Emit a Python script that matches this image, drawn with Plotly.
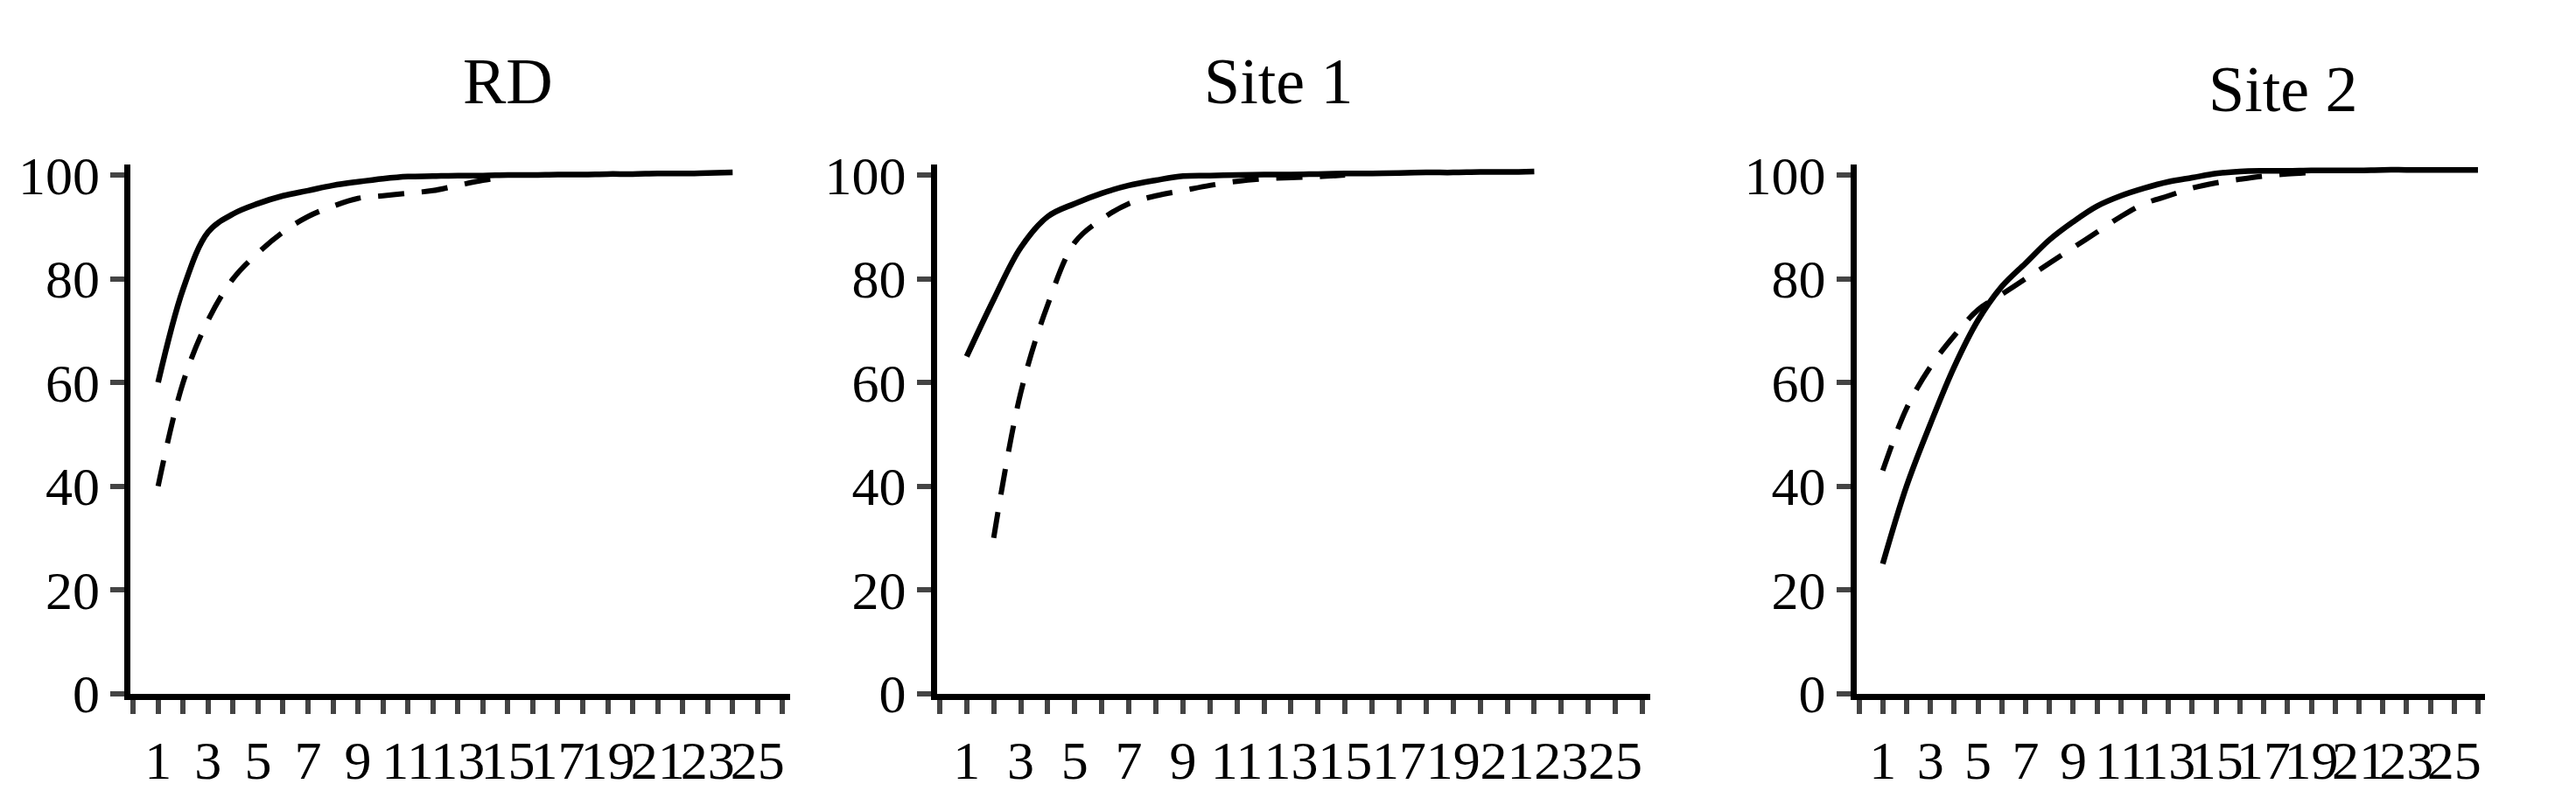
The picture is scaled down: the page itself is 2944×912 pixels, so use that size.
import plotly.graph_objects as go

titles = ["RD", "Site 1", "Site 2"]

# solid curves
rd_solid_x = list(range(1, 25))
rd_solid_y = [60, 78, 89, 92.5, 94.5, 96, 97, 98, 98.7, 99.3, 99.7, 99.8, 99.9, 99.9,
              100, 100, 100.1, 100.1, 100.2, 100.2, 100.3, 100.3, 100.4, 100.5]
s1_solid_x = list(range(1, 23))
s1_solid_y = [65, 76, 86, 92, 94.5, 96.5, 98, 99, 99.8, 99.9, 100, 100.1, 100.1, 100.2,
              100.3, 100.3, 100.4, 100.5, 100.5, 100.6, 100.6, 100.7]
s2_solid_x = list(range(1, 27))
s2_solid_y = [25, 40, 52, 63, 72, 78.5, 83, 87.5, 91, 94, 96, 97.5, 98.7, 99.5, 100.3,
              100.7, 100.8, 100.8, 100.9, 100.9, 100.9, 101, 101, 101, 101, 101]

# dashed curves
rd_dash_x = list(range(1, 16))
rd_dash_y = [40, 60, 72, 80, 85, 89, 92, 94, 95.5, 96, 96.5, 97, 98, 99, 99.6]
s1_dash_x = list(range(2, 16))
s1_dash_y = [30, 58, 75, 87, 91.5, 94.5, 96, 97, 98, 98.8, 99.3, 99.5, 99.7, 100]
s2_dash_x = list(range(1, 20))
s2_dash_y = [43, 55, 63, 69, 74, 77, 80, 83, 86, 89, 92, 94.5, 96, 97.5, 98.5, 99.2,
             99.8, 100.2, 100.5]

solids = [(rd_solid_x, rd_solid_y), (s1_solid_x, s1_solid_y), (s2_solid_x, s2_solid_y)]
dashes = [(rd_dash_x, rd_dash_y), (s1_dash_x, s1_dash_y), (s2_dash_x, s2_dash_y)]

x_ticks = list(range(0, 27))
x_text = [str(v) if v % 2 == 1 else "" for v in x_ticks]
y_ticks = [0, 20, 40, 60, 80, 100]

domains = [(0.048, 0.304), (0.361, 0.638), (0.718, 0.962)]
title_pos = [(519, 22), (1453, 22), (2689, 32)]

font = dict(family="Liberation Serif", size=62, color="black")

fig = go.Figure()
for i in range(3):
    xa = "x" if i == 0 else f"x{i+1}"
    ya = "y" if i == 0 else f"y{i+1}"
    fig.add_trace(go.Scatter(x=dashes[i][0], y=dashes[i][1], xaxis=xa, yaxis=ya,
                             mode="lines", line=dict(color="black", width=6,
                                                     dash="30px,20px", shape="spline"),
                             showlegend=False))
    fig.add_trace(go.Scatter(x=solids[i][0], y=solids[i][1], xaxis=xa, yaxis=ya,
                             mode="lines", line=dict(color="black", width=6.5, shape="spline"),
                             showlegend=False))
    axis_x = dict(domain=list(domains[i]), range=[-0.1, 26.3], tickvals=x_ticks,
                  ticktext=x_text, ticks="outside", ticklen=16, tickwidth=6,
                  showline=True, linewidth=7, linecolor="black", showgrid=False,
                  zeroline=False, tickfont=font, anchor=ya, tickangle=0)
    axis_y = dict(domain=[0.108, 0.814], range=[0, 102], tickvals=y_ticks,
                  ticks="outside", ticklen=16, tickwidth=6, showline=True, linewidth=7,
                  linecolor="black", showgrid=False, zeroline=False, tickfont=font,
                  anchor=xa)
    fig.layout["xaxis" if i == 0 else f"xaxis{i+1}"] = axis_x
    fig.layout["yaxis" if i == 0 else f"yaxis{i+1}"] = axis_y
    fig.add_annotation(text=titles[i], x=title_pos[i][0] / 2944, y=1 - title_pos[i][1] / 912,
                       xref="paper", yref="paper", showarrow=False, yanchor="top",
                       font=dict(family="Liberation Serif", size=74, color="black"))

fig.update_layout(width=2944, height=912, margin=dict(l=0, r=0, t=0, b=0),
                  plot_bgcolor="white", paper_bgcolor="white")
fig.write_html("out.html")
